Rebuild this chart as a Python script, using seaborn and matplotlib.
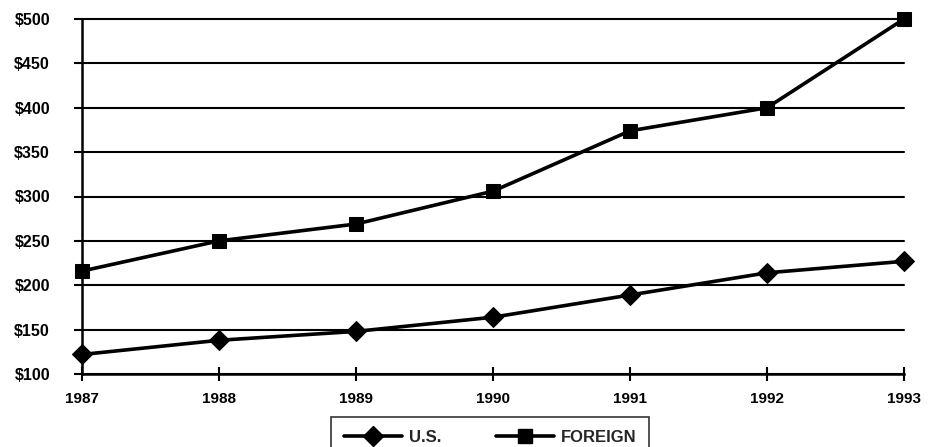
import matplotlib
matplotlib.use("Agg")
import matplotlib.pyplot as plt
import seaborn as sns
import pandas as pd
from matplotlib.ticker import FuncFormatter

years = [1987, 1988, 1989, 1990, 1991, 1992, 1993]
us_values = [122, 138, 148, 164, 189, 214, 227]
foreign_values = [216, 250, 269, 306, 374, 400, 500]
y_ticks = [100, 150, 200, 250, 300, 350, 400, 450, 500]

df = pd.DataFrame({
    "year": years * 2,
    "value": us_values + foreign_values,
    "series": ["U.S."] * len(years) + ["FOREIGN"] * len(years),
})

sns.set_theme(style="white")
plt.rcParams["font.family"] = ["Liberation Sans", "DejaVu Sans"]
plt.rcParams["font.weight"] = "bold"

fig = plt.figure(figsize=(9.33, 4.47), dpi=100)
ax = fig.add_axes([82 / 933, 1 - 374 / 447, (904 - 82) / 933, (374 - 19) / 447])

sns.lineplot(
    data=df, x="year", y="value", style="series", hue="series",
    palette={"U.S.": "black", "FOREIGN": "black"},
    markers={"U.S.": "D", "FOREIGN": "s"},
    dashes=False, linewidth=2.6, markersize=10, markeredgecolor="black",
    ax=ax, legend=False,
)
for line in ax.lines:
    line.set_clip_on(False)
    line.set_zorder(3)

ax.set_xlim(1987, 1993)
ax.set_ylim(100, 500)
ax.set_yticks(y_ticks)
ax.set_xticks(years)
ax.yaxis.set_major_formatter(FuncFormatter(lambda v, _: f"${int(v)}"))
ax.set_xlabel("")
ax.set_ylabel("")

# horizontal rules at every tick
for v in y_ticks:
    ax.axhline(v, color="black", linewidth=1.5, zorder=0.5, clip_on=False)

for side in ["top", "right"]:
    ax.spines[side].set_visible(False)
ax.spines["left"].set_linewidth(1.8)
ax.spines["bottom"].set_linewidth(1.8)
ax.spines["left"].set_color("black")
ax.spines["bottom"].set_color("black")

ax.tick_params(axis="y", direction="out", length=6, width=1.5, pad=17,
               labelsize=11.5, colors="black", left=True)
ax.tick_params(axis="x", direction="inout", length=10, width=1.5, pad=8,
               labelsize=11, colors="black", bottom=True)
for lbl in ax.get_xticklabels() + ax.get_yticklabels():
    lbl.set_fontweight("bold")

handles = [
    plt.Line2D([], [], color="black", linewidth=2.6, marker="D", markersize=10),
    plt.Line2D([], [], color="black", linewidth=2.6, marker="s", markersize=10),
]
leg = fig.legend(
    handles, ["U.S.", "FOREIGN"], loc="upper center",
    bbox_to_anchor=(490 / 933, 1 - 417 / 447), ncol=2, frameon=True,
    fancybox=False, edgecolor="black", columnspacing=3.3, handlelength=3.5,
    handletextpad=0.4, prop={"weight": "bold", "size": 12}, borderpad=0.75,
    borderaxespad=0,
)
leg.get_frame().set_linewidth(1.2)

fig.savefig("out.png", dpi=100, facecolor="white")
